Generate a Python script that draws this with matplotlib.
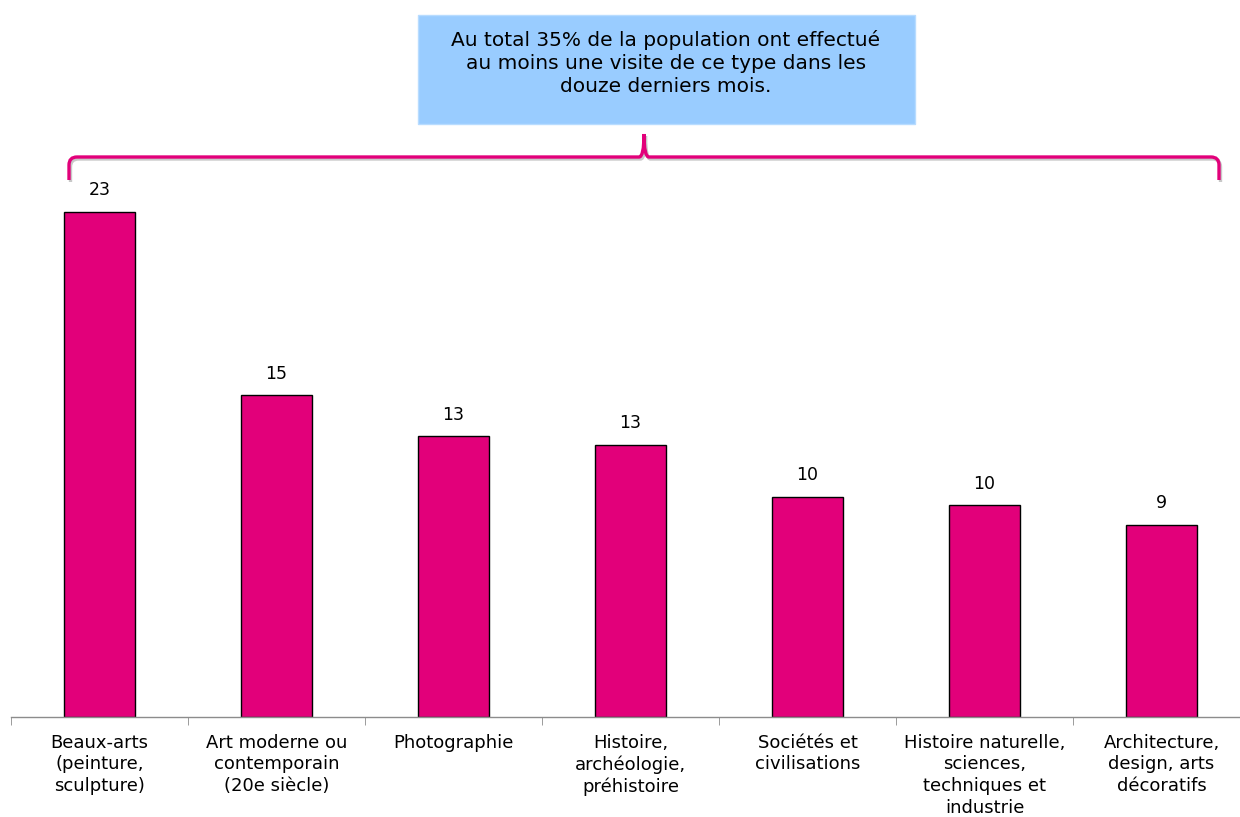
import matplotlib.pyplot as plt
from matplotlib.path import Path
from matplotlib.patches import PathPatch, Rectangle

categories = [
    "Beaux-arts\n(peinture,\nsculpture)",
    "Art moderne ou\ncontemporain\n(20e siècle)",
    "Photographie",
    "Histoire,\narchéologie,\npréhistoire",
    "Sociétés et\ncivilisations",
    "Histoire naturelle,\nsciences,\ntechniques et\nindustrie",
    "Architecture,\ndesign, arts\ndécoratifs",
]
values = [23.4, 14.9, 13.0, 12.6, 10.2, 9.8, 8.9]
note = "Au total 35% de la population ont effectué\nau moins une visite de ce type dans les\ndouze derniers mois."

W, H = 1240, 817
BAR = "#e2007a"


def px(x, y):
    """pixels (origine en haut a gauche) -> fraction de figure"""
    return x / W, 1 - y / H


fig = plt.figure(figsize=(W / 100, H / 100), dpi=100)
# axe de 11 px a 1250 px (depasse un peu a droite)
ax = fig.add_axes([11 / W, 100 / H, 1239 / W, 648 / H])

x = list(range(len(categories)))
bars = ax.bar(x, values, width=0.4, color=BAR, edgecolor="black", linewidth=1.0)
for b, v in zip(bars, values):
    ax.annotate(f"{v:.0f}", (b.get_x() + b.get_width() / 2, v),
                xytext=(0, 9), textcoords="offset points",
                ha="center", va="bottom", fontsize=12.5)

ax.set_xlim(-0.5, len(categories) - 0.5)
ax.set_ylim(0, 30)
ax.set_yticks([])
for s in ["top", "right", "left"]:
    ax.spines[s].set_visible(False)
ax.spines["bottom"].set_color("#8c8c8c")
ax.spines["bottom"].set_linewidth(1.0)

ax.set_xticks(x)
ax.set_xticklabels(categories, fontsize=13, linespacing=1.26, va="top")
ax.tick_params(axis="x", which="major", length=0, pad=12)
ax.set_xticks([i - 0.5 for i in range(len(categories) + 1)], minor=True)
ax.tick_params(axis="x", which="minor", length=6, color="#8c8c8c", direction="out")

# encadre bleu
x0, y0 = px(418, 124)
x1, y1 = px(915, 15)
fig.patches.append(Rectangle((x0, y0), x1 - x0, y1 - y0, transform=fig.transFigure,
                             facecolor="#99ccff", edgecolor="#b8dcff", linewidth=1))
tx, ty = px(666, 63)
fig.text(tx, ty, note, ha="center", va="center", fontsize=14.5, linespacing=1.25)

# accolade
pts = [(69, 180), (69, 165), (69, 157), (77, 157), (639, 157), (644, 157), (644, 134),
       (644, 157), (649, 157), (1211, 157), (1219, 157), (1219, 165), (1219, 180)]
codes = [Path.MOVETO, Path.LINETO, Path.CURVE3, Path.CURVE3, Path.LINETO,
         Path.CURVE3, Path.CURVE3, Path.CURVE3, Path.CURVE3, Path.LINETO,
         Path.CURVE3, Path.CURVE3, Path.LINETO]
for dx, dy, col, lw in [(1.5, 2, "#c8c8c8", 2.4), (0, 0, BAR, 2.4)]:
    path = Path([px(a + dx, b + dy) for a, b in pts], codes)
    fig.patches.append(PathPatch(path, transform=fig.transFigure, facecolor="none",
                                 edgecolor=col, linewidth=lw, capstyle="butt"))

plt.savefig("out.png", dpi=100)
